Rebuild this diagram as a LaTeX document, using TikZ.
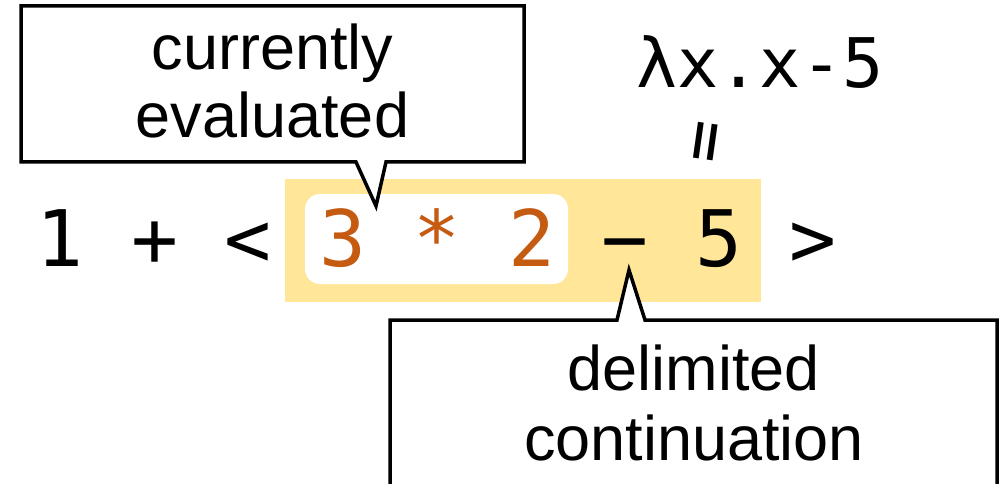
\documentclass[tikz,border=0pt]{standalone}
\usepackage{fontspec}
\setmainfont{Liberation Sans}
\newfontfamily\monof{DejaVu Sans Mono}
\definecolor{hlyellow}{HTML}{FFE699}
\definecolor{evalorange}{HTML}{C55A11}
\begin{document}
\begin{tikzpicture}[x=1pt,y=-1pt,
  codechar/.style={anchor=base,inner sep=0pt,font=\monof\fontsize{78}{80}\selectfont},
  calltext/.style={anchor=base,inner sep=0pt,align=center,font=\fontsize{63}{68}\selectfont},
  callline/.style={draw=black,line width=3.5pt,fill=white,line join=miter}]
\useasboundingbox (0,0) rectangle (999,484);
% highlight regions
\fill[hlyellow] (285,179) rectangle (761,302);
\fill[white,rounded corners=15pt] (305,194) rectangle (568,284);
% code line
\node[codechar] (c1) at (60,266) {1};
\node[codechar] (cplus) at (155,266) {+};
\node[codechar] (clt) at (248,266) {<};
\node[codechar,text=evalorange] (c3) at (343,266) {3};
\node[codechar,text=evalorange] (cstar) at (437,266) {*};
\node[codechar,text=evalorange] (c2) at (532,266) {2};
\node[codechar] (cminus) at (625,266) {−};
\node[codechar] (c5) at (719,266) {5};
\node[codechar] (cgt) at (813,266) {>};
% lambda
\node[anchor=base,inner sep=0pt,font=\monof\fontsize{68.4}{70}\selectfont] (lam) at (760,88) {λx.x-5};
\node[inner sep=0pt,rotate=82,font=\monof\fontsize{70}{72}\selectfont] (eq) at (712,142) {=};
% callout 1
\coordinate (p1) at (376,206);
\draw[callline] (21,6) -- (524,6) -- (524,162) -- (386,162) -- (p1) -- (356,162) -- (21,162) -- cycle;
\node[calltext] (t1) at (272.5,138) {currently\\evaluated};
% callout 2
\coordinate (p2) at (629,270);
\draw[callline] (390,320) -- (617,320) -- (p2) -- (645,320) -- (997,320) -- (997,492) -- (390,492) -- cycle;
\node[calltext,font=\fontsize{63}{70}\selectfont] (t2) at (694,460) {delimited\\continuation};
\end{tikzpicture}
\end{document}
